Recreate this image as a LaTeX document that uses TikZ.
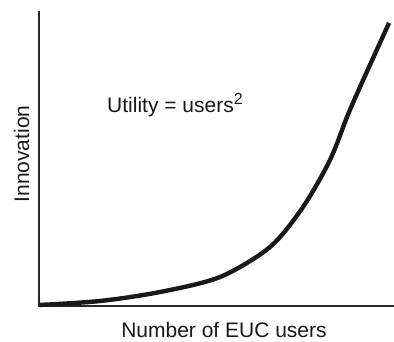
\documentclass[tikz,border=0pt]{standalone}
\usepackage{fontspec}
\setmainfont{Liberation Sans}
\usepackage{tikz}
\usetikzlibrary{positioning}

\tikzset{
    axisline/.style={draw=black!85, line width=1.3pt},
    growth/.style={draw=black!90, line width=4.4pt},
    label/.style={font=\fontsize{21}{25}\selectfont, text=black!90, inner sep=0pt}
}

\begin{document}
\begin{tikzpicture} [ x=1pt, y=-1pt, ]
    \useasboundingbox (0,0) rectangle (394,341);

    % axes
    \coordinate (origin) at (39,306);
    \coordinate (ytop) at (39,11);
    \coordinate (xend) at (394,306);
    \draw[axisline] (ytop) -- (origin) -- (xend);

    % utility curve
    \draw[growth] plot[smooth, tension=0.5] coordinates {
        (39,305) (100,301) (160,292) (220,277) (270,247)
        (303,207) (330,160) (347,117) (360,87) (389,23)
    };

    \node[label, anchor=base west] (util) at (107,112) {Utility = users\raisebox{0.65ex}{\fontsize{16}{16}\selectfont 2}};
    \node[label, anchor=base] (xlab) at (224,337) {Number of EUC users};
    \node[label, rotate=90, anchor=base] (ylab) at (29,154) {Innovation};

\end{tikzpicture}
\end{document}
